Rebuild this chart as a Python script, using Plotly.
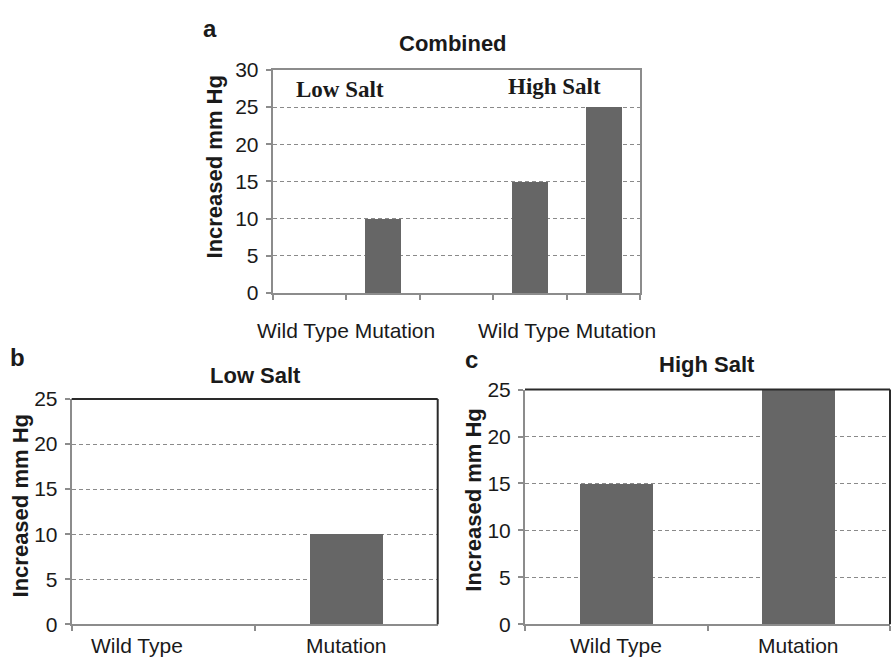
import plotly.graph_objects as go

# Blood pressure increase by genotype under low and high salt diets
genotypes = ["Wild Type", "Mutation"]
salt_groups = ["Low Salt", "High Salt"]
low_salt = [0, 10]
high_salt = [15, 25]
combined_ticks = [0, 5, 10, 15, 20, 25, 30]
single_ticks = [0, 5, 10, 15, 20, 25]

BAR = "#666666"
AXIS = "#8c8c8c"
GRID = "#8a8a8a"
DARK = "#2a2a2a"
SANS = "Liberation Sans, Arial, sans-serif"
SERIF = "Liberation Serif, Times New Roman, serif"
TXT = "#1a1a1a"

W, H = 893, 671


def px(x):
    return x / W


def py(y):
    return 1 - y / H


fig = go.Figure()

# Panel a: both diets side by side, one empty slot between the groups
for g, vals in enumerate([low_salt, high_salt]):
    xs = [g * 3 + i + 1 for i in range(len(vals))]
    fig.add_trace(go.Bar(x=xs, y=vals, width=0.49, marker=dict(color=BAR, line_width=0),
                         xaxis="x", yaxis="y", showlegend=False, hoverinfo="skip"))

# Panels b and c
fig.add_trace(go.Bar(x=genotypes, y=low_salt, width=0.4, marker=dict(color=BAR, line_width=0),
                     xaxis="x2", yaxis="y2", showlegend=False, hoverinfo="skip"))
fig.add_trace(go.Bar(x=genotypes, y=high_salt, width=0.4, marker=dict(color=BAR, line_width=0),
                     xaxis="x3", yaxis="y3", showlegend=False, hoverinfo="skip"))

tickfont = dict(family=SANS, size=21, color=TXT)

yax_common = dict(showgrid=True, gridcolor=GRID, gridwidth=1, griddash="4px,3px",
                  showline=True, linecolor=AXIS, linewidth=2, zeroline=False,
                  ticks="outside", ticklen=5, tickcolor=AXIS, tickwidth=2,
                  tickfont=tickfont, ticklabelstandoff=3, fixedrange=True)
xax_common = dict(showgrid=False, showline=True, linecolor=AXIS, linewidth=2, zeroline=False,
                  ticks="outside", ticklen=5, tickcolor=AXIS, tickwidth=2, fixedrange=True)
cat_axis = dict(type="category", tickson="boundaries", categoryorder="array",
                categoryarray=genotypes, range=[-0.5, 1.5], showticklabels=False)

fig.update_layout(
    width=W, height=H,
    margin=dict(l=0, r=0, t=0, b=0),
    paper_bgcolor="white", plot_bgcolor="white",
    bargap=0,
    xaxis=dict(domain=[px(272.7), px(640)], range=[0.5, 5.5],
               tickvals=[0.5, 1.5, 2.5, 3.5, 4.5, 5.5], ticktext=[""] * 6,
               mirror=True, anchor="y", **xax_common),
    yaxis=dict(domain=[py(291), py(60)], range=[0, 30], tickvals=combined_ticks,
               mirror=True, anchor="x", **yax_common),
    xaxis2=dict(domain=[px(71.7), px(437.7)], anchor="y2", **cat_axis, **xax_common),
    yaxis2=dict(domain=[py(634), py(400.7)], range=[0, 25], tickvals=single_ticks,
                anchor="x2", **yax_common),
    xaxis3=dict(domain=[px(525), px(890)], anchor="y3", **cat_axis, **xax_common),
    yaxis3=dict(domain=[py(634), py(391)], range=[0, 25], tickvals=single_ticks,
                anchor="x3", **yax_common),
)

# Dark top and right borders on panels b and c
for xr, yr in [("x2", "y2"), ("x3", "y3")]:
    fig.add_shape(type="line", xref=f"{xr} domain", yref=f"{yr} domain",
                  x0=0, x1=1, y0=1, y1=1, line=dict(color=DARK, width=2))
    fig.add_shape(type="line", xref=f"{xr} domain", yref=f"{yr} domain",
                  x0=1, x1=1, y0=0, y1=1, line=dict(color=DARK, width=2))


def note(text, x, y, size, family=SANS, bold=True, angle=0, xref="paper", xshift=0):
    fig.add_annotation(text=f"<b>{text}</b>" if bold else text,
                       x=x, y=py(y), xref=xref, yref="paper", xshift=xshift,
                       showarrow=False, xanchor="center", yanchor="middle",
                       textangle=angle, font=dict(family=family, size=size, color=TXT))


# Panel letters
note("a", px(210), 17, 24)
note("b", px(17), 358, 24)
note("c", px(472), 360, 24)

# Panel titles
note("Combined", px(453), 33, 22)
note("Low Salt", px(255), 376, 22)
note("High Salt", px(707), 365, 22)

# Y axis titles
note("Increased mm Hg", px(214), 161, 22, angle=-90)
note("Increased mm Hg", px(20), 512, 22, angle=-90)
note("Increased mm Hg", px(474), 506, 22, angle=-90)

# Diet labels inside panel a
note("Low Salt", px(340), 80, 23, family=SERIF)
note("High Salt", px(554), 77, 23, family=SERIF)

# Genotype labels under each diet group of panel a
for g in range(len(salt_groups)):
    note(" ".join(genotypes), g * 3 + 1.5, 330, 21, bold=False, xref="x")

# Genotype labels under panels b and c (in b the first one sits left of its slot centre)
for i, name in enumerate(genotypes):
    note(name, i, 656, 21, bold=False, xref="x2", xshift=-26 if i == 0 else 0)
    note(name, i, 656, 21, bold=False, xref="x3")

fig.write_html("out.html")
